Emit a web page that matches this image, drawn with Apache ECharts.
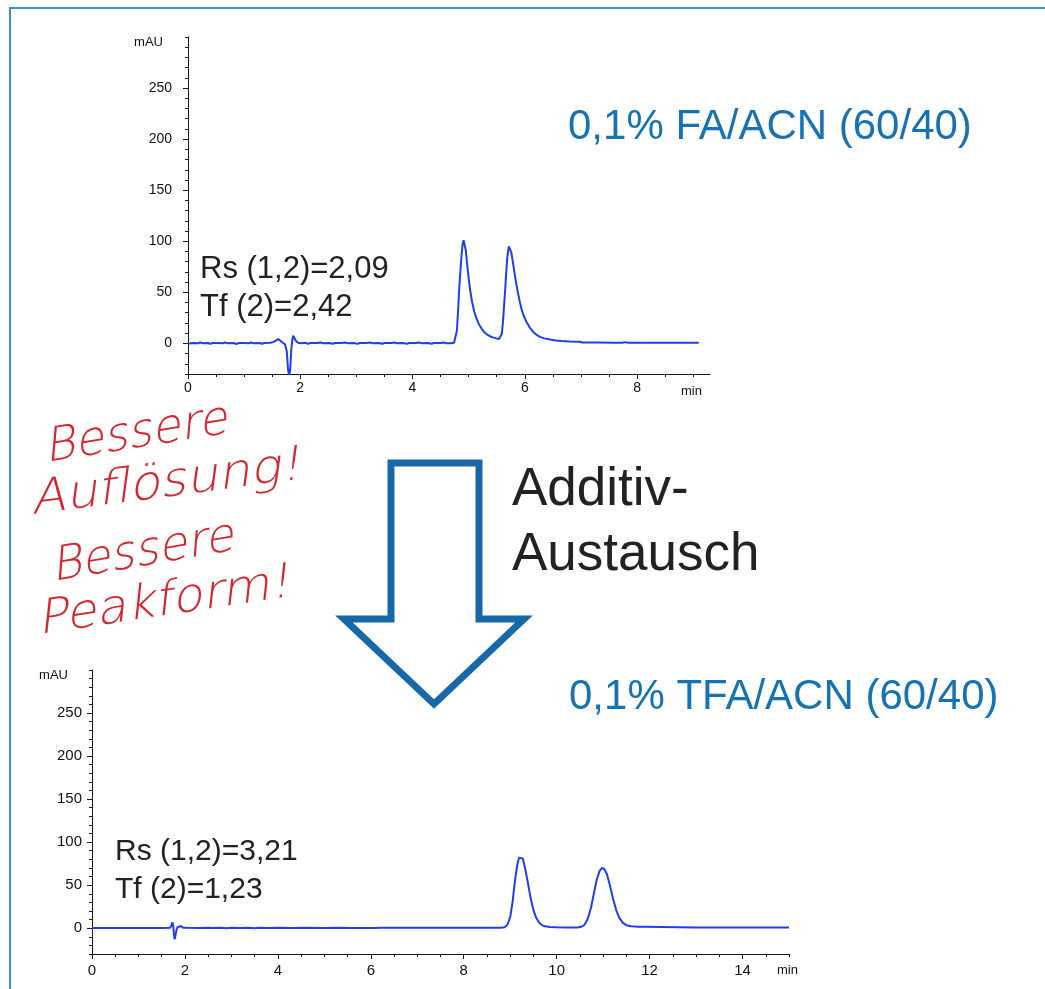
<!DOCTYPE html>
<html>
<head>
<meta charset="utf-8">
<script src="https://cdn.jsdelivr.net/npm/echarts@6/dist/echarts.min.js"></script>
<style>
  html, body { margin: 0; padding: 0; background: #ffffff; }
  #chart { width: 1045px; height: 989px; }
</style>
</head>
<body>
<div id="chart"></div>
<script>
// Chromatogram, 0.1% formic acid / ACN (60/40): [time min, absorbance mAU]
const traceFA = [
  [0.00,-0.8],[0.04,0.0],[0.10,0.3],[0.18,0.1],[0.22,0.8],[0.26,0.2],[0.36,0.3],[0.40,-0.5],[0.44,0.3],
  [0.55,0.4],[0.62,0.1],[0.66,0.9],[0.70,0.2],[0.82,0.3],[0.86,-0.6],[0.90,0.3],[1.00,0.4],[1.08,0.1],
  [1.12,0.9],[1.16,0.2],[1.28,0.3],[1.32,-0.4],[1.36,0.3],[1.46,0.5],[1.52,1.2],[1.57,3.0],[1.61,4.2],
  [1.65,2.4],[1.69,0.6],[1.73,-1.0],[1.76,-8],[1.78,-24],[1.80,-32],[1.82,-26],[1.84,-6],[1.86,4],
  [1.875,7.5],[1.89,6.5],[1.92,2.5],[1.96,0.6],[2.02,0.2],[2.10,0.5],[2.14,-0.5],[2.18,0.4],[2.30,0.3],
  [2.36,0.9],[2.40,0.2],[2.52,0.4],[2.58,-0.4],[2.62,0.3],[2.74,0.4],[2.80,0.9],[2.84,0.2],[2.96,0.3],
  [3.02,-0.5],[3.06,0.3],[3.18,0.4],[3.24,0.9],[3.28,0.2],[3.40,0.3],[3.46,-0.4],[3.50,0.3],[3.62,0.4],
  [3.68,0.9],[3.72,0.2],[3.84,0.3],[3.90,-0.5],[3.94,0.3],[4.06,0.4],[4.12,0.9],[4.16,0.2],[4.28,0.3],
  [4.34,-0.4],[4.38,0.3],[4.50,0.4],[4.56,0.8],[4.60,0.1],[4.68,0.2],[4.74,0.6],[4.77,2.5],[4.79,12],
  [4.81,30],[4.83,52],[4.85,68],[4.87,84],[4.89,96],[4.91,101],[4.93,100],[4.95,91],[4.97,79],[5.00,64],
  [5.03,51],[5.06,41],[5.10,31],[5.14,24.5],[5.18,19],[5.23,14.5],[5.28,11],[5.33,8.6],[5.38,7],
  [5.43,5.9],[5.49,4.9],[5.54,4.2],[5.57,4.6],[5.59,9],[5.61,20],[5.63,36],[5.65,52],[5.67,70],[5.69,85],
  [5.715,95],[5.735,94],[5.76,89],[5.79,79],[5.82,68],[5.85,58],[5.88,49],[5.91,41],[5.94,34],[5.98,27],
  [6.03,21],[6.09,15.5],[6.15,11.2],[6.21,8.4],[6.27,6.4],[6.35,4.9],[6.45,3.7],[6.55,2.9],[6.65,2.3],
  [6.80,1.8],[6.98,1.5],[7.02,0.9],[7.30,0.8],[7.60,0.7],[7.74,0.6],[7.78,1.2],[7.84,0.6],[8.20,0.5],
  [8.70,0.5],[9.10,0.5]
];

// Chromatogram, 0.1% trifluoroacetic acid / ACN (60/40): [time min, absorbance mAU]
const traceTFA = [
  [0.00,0.3],[0.50,0.3],[1.00,0.3],[1.50,0.3],[1.68,0.4],[1.71,3],[1.73,6.8],[1.75,2],[1.765,-8],
  [1.78,-13],[1.80,-7],[1.83,0.5],[1.87,2.8],[1.91,2.6],[1.96,0.6],[2.05,0.4],[2.30,0.2],[2.50,0.6],
  [2.60,0.1],[2.75,0.5],[2.90,-0.1],[3.00,0.5],[3.20,0.1],[3.35,0.6],[3.50,0.0],[3.60,0.5],[3.80,0.1],
  [4.00,0.5],[4.30,0.1],[4.60,0.4],[5.00,0.1],[5.30,0.4],[5.60,0.2],[6.10,0.1],[6.20,0.5],[7.00,0.5],
  [8.00,0.5],[8.80,0.6],[8.88,1.2],[8.94,4],[9.00,13],[9.05,30],[9.10,54],[9.15,73],[9.19,82],[9.23,84],
  [9.27,81],[9.32,70],[9.38,53],[9.44,35],[9.50,21],[9.56,12],[9.62,6.5],[9.68,3.6],[9.75,2.2],
  [9.85,1.4],[10.00,1.0],[10.20,0.9],[10.45,0.9],[10.53,1.6],[10.60,4],[10.67,11],[10.74,24],[10.80,40],
  [10.86,56],[10.92,66],[10.97,70],[11.02,69],[11.08,63],[11.14,51],[11.21,35],[11.28,21],[11.35,12],
  [11.42,6.5],[11.50,3.5],[11.60,2.2],[11.75,1.7],[11.88,1.6],[11.92,1.0],[13.00,0.9],[14.00,0.9],[15.00,0.9]
];

// Axis ranges and tick positions
const yRange = [-30, 300];
const yLabelTicks = [0, 50, 100, 150, 200, 250];
const yMinorTicks = [-30,-20,-10,0,10,20,30,40,50,60,70,80,90,100,110,120,130,140,150,160,170,180,190,
  200,210,220,230,240,250,260,270,280,290,300];
const xRangeFA = [0, 9.3];
const xLabelTicksFA = [0, 2, 4, 6, 8];
const xMinorTicksFA = [0,0.5,1,1.5,2,2.5,3,3.5,4,4.5,5,5.5,6,6.5,7,7.5,8,8.5,9];
const xRangeTFA = [0, 15];
const xLabelTicksTFA = [0, 2, 4, 6, 8, 10, 12, 14];
const xMinorTicksTFA = [0,0.5,1,1.5,2,2.5,3,3.5,4,4.5,5,5.5,6,6.5,7,7.5,8,8.5,9,9.5,10,10.5,11,11.5,
  12,12.5,13,13.5,14,14.5,15];

// Text blocks
const conditionFA = '0,1% FA/ACN (60/40)';
const conditionTFA = '0,1% TFA/ACN (60/40)';
const statsFA = ['Rs (1,2)=2,09', 'Tf (2)=2,42'];
const statsTFA = ['Rs (1,2)=3,21', 'Tf (2)=1,23'];
const exchangeLines = ['Additiv-', 'Austausch'];
const noteLines = ['Bessere', 'Auflösung!', 'Bessere', 'Peakform!'];

const SANS = "'Liberation Sans', Arial, Helvetica, sans-serif";
const AXIS_COLOR = '#1a1a1a';
const TRACE_COLOR = '#1e3ef4';
const BLUE_TEXT = '#1673b3';
const RED_INK = '#d9232d';

function xAxesFor(grid, range, labelTicks, minorTicks, margin, fontSize) {
  return [
    {
      type: 'value', gridIndex: grid, min: range[0], max: range[1], position: 'bottom',
      axisLine: { show: true, onZero: false, lineStyle: { color: AXIS_COLOR, width: 1 } },
      axisTick: { show: true, customValues: minorTicks, length: 3, lineStyle: { color: AXIS_COLOR } },
      axisLabel: { show: false },
      splitLine: { show: false }
    },
    {
      type: 'value', gridIndex: grid, min: range[0], max: range[1], position: 'bottom',
      axisLine: { show: false, onZero: false },
      axisTick: { show: true, customValues: labelTicks, length: 5, lineStyle: { color: AXIS_COLOR } },
      axisLabel: { show: true, customValues: labelTicks, margin: margin, fontSize: fontSize,
        fontFamily: SANS, color: '#111' },
      splitLine: { show: false }
    }
  ];
}

function yAxesFor(grid, margin, fontSize) {
  return [
    {
      type: 'value', gridIndex: grid, min: yRange[0], max: yRange[1], position: 'left',
      axisLine: { show: true, onZero: false, lineStyle: { color: AXIS_COLOR, width: 1 } },
      axisTick: { show: true, customValues: yMinorTicks, length: 3, lineStyle: { color: AXIS_COLOR } },
      axisLabel: { show: false },
      splitLine: { show: false }
    },
    {
      type: 'value', gridIndex: grid, min: yRange[0], max: yRange[1], position: 'left',
      axisLine: { show: false, onZero: false },
      axisTick: { show: true, customValues: yLabelTicks, length: 5, lineStyle: { color: AXIS_COLOR } },
      axisLabel: { show: true, customValues: yLabelTicks, margin: margin, fontSize: fontSize,
        fontFamily: SANS, color: '#111' },
      splitLine: { show: false }
    }
  ];
}

function label(x, y, text, size, color, opts) {
  const o = opts || {};
  return {
    type: 'text', x: x, y: y, rotation: o.rotation || 0, scaleX: o.scaleX || 1, silent: true,
    style: {
      text: text, fill: color,
      font: (o.style || 'normal') + ' ' + (o.weight || 'normal') + ' ' + size + 'px ' + (o.family || SANS),
      textAlign: o.align || 'left', textVerticalAlign: o.valign || 'middle'
    }
  };
}

// handwritten remarks: baseline start point, tilt and horizontal stretch of each line
const notePlacement = [
  { x: 46, y: 462, rot: 0.16, sx: 1.0 },
  { x: 32, y: 514, rot: 0.13, sx: 1.08 },
  { x: 53, y: 581, rot: 0.17, sx: 1.0 },
  { x: 39, y: 634, rot: 0.15, sx: 1.06 }
];
const NOTE_SIZE = 47;
const NOTE_FONT = "'DejaVu Sans Light', 'DejaVu Sans ExtraLight', 'DejaVu Sans', sans-serif";

const graphics = [
  // frame lines
  { type: 'line', silent: true, shape: { x1: 9, y1: 8, x2: 1045, y2: 8 },
    style: { stroke: '#3d8fca', lineWidth: 2 } },
  { type: 'line', silent: true, shape: { x1: 10, y1: 8, x2: 10, y2: 989 },
    style: { stroke: '#3d8fca', lineWidth: 2 } },
  // axis units
  label(163, 42, 'mAU', 13, '#111', { align: 'right' }),
  label(681, 391, 'min', 13, '#111'),
  label(68, 675, 'mAU', 13, '#111', { align: 'right' }),
  label(777, 970, 'min', 13, '#111'),
  // conditions
  label(568, 127, conditionFA, 42, BLUE_TEXT),
  label(569, 697, conditionTFA, 42, BLUE_TEXT),
  // resolution / tailing
  label(200, 269, statsFA[0], 31, '#222'),
  label(200, 307, statsFA[1], 31, '#222'),
  label(115, 852, statsTFA[0], 30, '#222'),
  label(115, 890, statsTFA[1], 30, '#222'),
  // additive exchange
  label(512, 490, exchangeLines[0], 53, '#222'),
  label(512, 555, exchangeLines[1], 53, '#222'),
  // down arrow outline
  { type: 'polygon', silent: true,
    shape: { points: [[391, 463], [479, 463], [479, 619], [524, 619], [434, 704], [344, 619], [391, 619]] },
    style: { fill: 'none', stroke: '#1768a8', lineWidth: 7, lineJoin: 'miter' } }
];

noteLines.forEach(function (t, i) {
  const p = notePlacement[i];
  const d = NOTE_SIZE * 0.24;
  graphics.push(label(p.x + d * Math.sin(p.rot), p.y + d * Math.cos(p.rot), t, NOTE_SIZE, RED_INK,
    { rotation: p.rot, scaleX: p.sx, valign: 'bottom', family: NOTE_FONT, style: 'italic', weight: 200 }));
});

const chart = echarts.init(document.getElementById('chart'), null, { renderer: 'canvas' });
chart.setOption({
  animation: false,
  backgroundColor: '#ffffff',
  grid: [
    { left: 188, top: 37, width: 522, height: 337 },
    { left: 92, top: 670, width: 697, height: 284 }
  ],
  xAxis: [].concat(
    xAxesFor(0, xRangeFA, xLabelTicksFA, xMinorTicksFA, 7, 14),
    xAxesFor(1, xRangeTFA, xLabelTicksTFA, xMinorTicksTFA, 9, 15)
  ),
  yAxis: [].concat(
    yAxesFor(0, 16, 14),
    yAxesFor(1, 10, 15)
  ),
  series: [
    { type: 'line', xAxisIndex: 0, yAxisIndex: 0, data: traceFA, showSymbol: false, clip: true,
      lineStyle: { color: TRACE_COLOR, width: 2 } },
    { type: 'line', xAxisIndex: 2, yAxisIndex: 2, data: traceTFA, showSymbol: false, clip: true,
      lineStyle: { color: TRACE_COLOR, width: 2 } }
  ],
  graphic: graphics
});
</script>
</body>
</html>
